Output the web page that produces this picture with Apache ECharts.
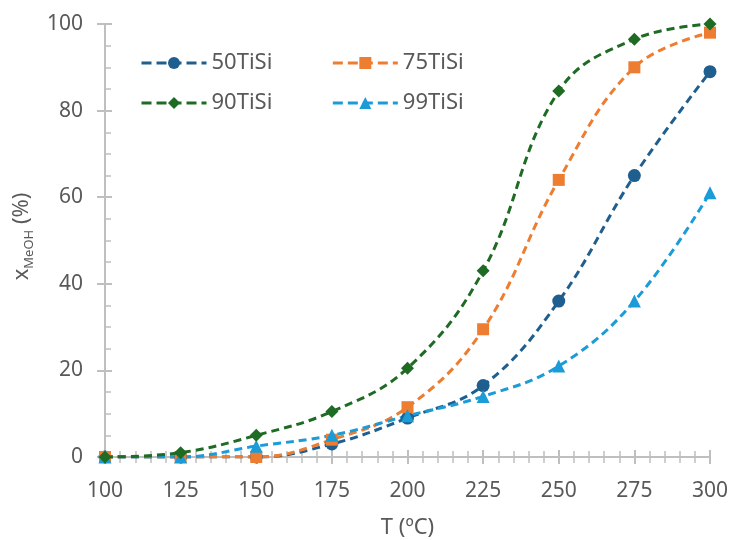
<!DOCTYPE html>
<html><head><meta charset="utf-8">
<script src="https://cdn.jsdelivr.net/npm/echarts@6/dist/echarts.min.js"></script>
<style>html,body{margin:0;padding:0;background:#fff}#c{width:729px;height:540px}</style>
</head><body><div id="c"></div>
<script>
const temperatures = [100,125,150,175,200,225,250,275,300];
const s50TiSi = [0,0,0,3,9,16.5,36,65,89];
const s75TiSi = [0,0,0,4,11.5,29.5,64,90,98];
const s90TiSi = [0,1,5,10.5,20.5,43,84.5,96.5,100];
const s99TiSi = [0,0,2.5,5,9.5,14,21,36,61];
const seriesNames = ['50TiSi','75TiSi','90TiSi','99TiSi'];
const xTicks = [100,125,150,175,200,225,250,275,300];
const yTicks = [0,20,40,60,80,100];

const colors = ['#1F5F8F','#ED7D31','#1E6B24','#1B9BD7'];
const symbols = ['circle','rect','diamond','triangle'];
const sizes = [13,12,13,13];
const values = [s50TiSi,s75TiSi,s90TiSi,s99TiSi];
const FONT = 'Noto Sans';
const gray = '#595959';
const axisGray = '#BFBFBF';
const FS = 21;
const FN = 22;

const series = seriesNames.map((n,i)=>({
  name:n, type:'line', smooth:0.4,
  data: temperatures.map((t,j)=>[t, values[i][j]]),
  symbol: symbols[i], symbolSize: sizes[i],
  lineStyle:{color:colors[i], width:3, type:[8,5]},
  itemStyle:{color:colors[i]},
  z: 3 + (i===2?1:0)
}));

const baseX = {type:'value', min:100, max:300, interval:25,
  axisLine:{show:true, lineStyle:{color:axisGray, width:2}},
  splitLine:{show:false}};
const baseY = {type:'value', min:0, max:100, interval:20,
  axisLine:{show:true, lineStyle:{color:axisGray, width:2}},
  splitLine:{show:false}};

const legendCommon = {left:140, padding:0, itemWidth:65, itemHeight:15, itemGap:59,
  lineStyle:{width:3, type:[10,5]},
  textStyle:{fontSize:FN, color:gray, fontFamily:FONT}};

const chart = echarts.init(document.getElementById('c'));
chart.setOption({
  animation:false,
  textStyle:{fontFamily:FONT},
  grid:{left:105, right:19, top:24, bottom:83, containLabel:false, outerBoundsMode:'none'},
  legend:[
    Object.assign({data:['50TiSi','75TiSi'], top:52}, legendCommon),
    Object.assign({data:['90TiSi','99TiSi'], top:92}, legendCommon)
  ],
  xAxis:[
    Object.assign({}, baseX, {
      name:'T (ºC)', nameLocation:'middle', nameGap:60,
      nameTextStyle:{fontSize:FN, color:gray, fontFamily:FONT},
      axisTick:{show:true, inside:false, length:7, lineStyle:{color:axisGray, width:2}},
      minorTick:{show:true, splitNumber:5, length:6, lineStyle:{color:axisGray, width:1.5}},
      axisLabel:{fontSize:FS, color:gray, margin:24, fontFamily:FONT,
        formatter:v=> xTicks.includes(v) ? String(v) : ''}
    }),
    Object.assign({}, baseX, {
      position:'bottom', axisLabel:{show:false},
      axisTick:{show:true, inside:true, length:7, lineStyle:{color:axisGray, width:2}},
      minorTick:{show:true, splitNumber:5, length:6, lineStyle:{color:axisGray, width:1.5}}
    })
  ],
  yAxis:[
    Object.assign({}, baseY, {
      name:'{a|x}{b|MeOH}{a| (%)}', nameLocation:'middle', nameGap:68, nameRotate:90,
      nameTextStyle:{padding:[0,0,0,8], rich:{
        a:{fontSize:FN, color:gray, fontFamily:FONT, verticalAlign:'bottom', lineHeight:26},
        b:{fontSize:13, color:gray, fontFamily:FONT, verticalAlign:'bottom', lineHeight:16, padding:[0,0,-3,0]}
      }},
      axisTick:{show:true, inside:false, length:8, lineStyle:{color:axisGray, width:2}},
      axisLabel:{fontSize:FS, color:gray, margin:22, fontFamily:FONT,
        formatter:v=> yTicks.includes(v) ? String(v) : ''}
    }),
    Object.assign({}, baseY, {
      position:'left', axisLabel:{show:false},
      axisTick:{show:true, inside:true, length:7, lineStyle:{color:axisGray, width:2}},
      minorTick:{show:true, splitNumber:4, length:6, lineStyle:{color:axisGray, width:1.5}}
    })
  ],
  series: series
});
</script></body></html>
